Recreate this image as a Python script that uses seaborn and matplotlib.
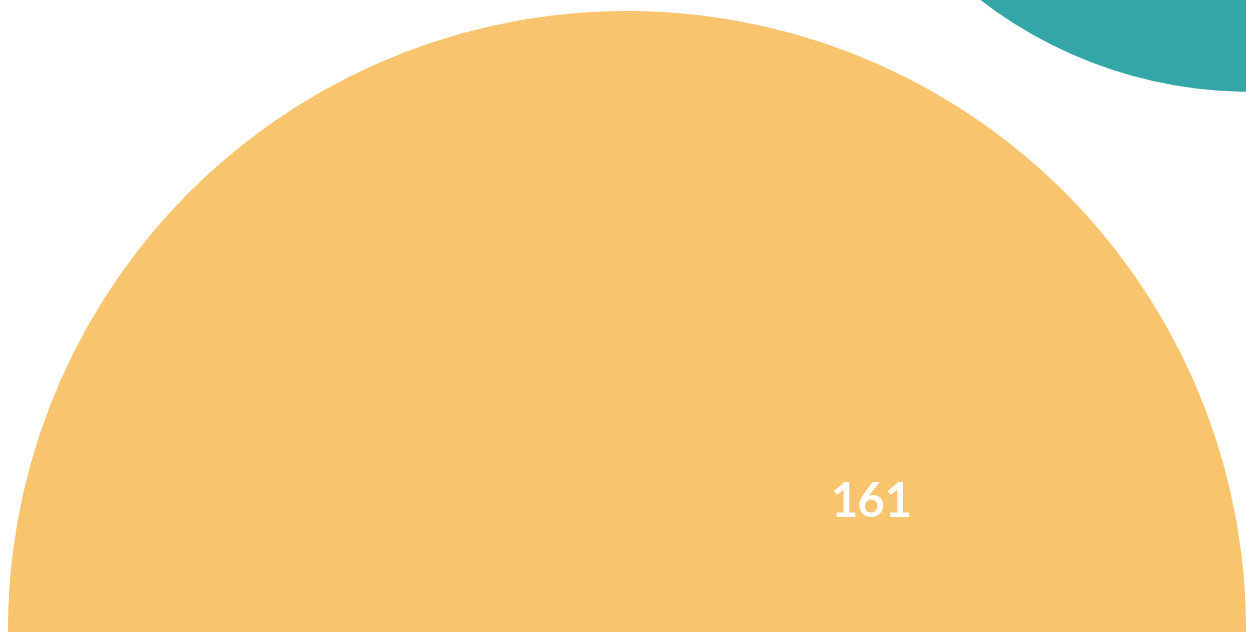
import matplotlib
matplotlib.use("Agg")
import matplotlib.pyplot as plt
import seaborn as sns
import numpy as np
import pandas as pd

# data
categories = ["A", "B"]
values = [161, 82]
colors = ["#F8C46D", "#35A6A8"]
label_text = ["161", ""]

sns.set_theme(style="white")
plt.rcParams["font.family"] = ["Lato", "DejaVu Sans"]

W, H, DPI = 1246, 632, 100
fig = plt.figure(figsize=(W / DPI, H / DPI), dpi=DPI)
ax = fig.add_axes([0, 0, 1, 1])

# layout: bubble centres in pixel space
cx = [627, 1250]
cy = [630, -350]
scale = 619 / np.sqrt(values[0])
radii = [scale * np.sqrt(v) for v in values]
px_to_pt = 72 / DPI
sizes = [(2 * r * px_to_pt) ** 2 for r in radii]

df = pd.DataFrame({"cat": categories, "x": cx, "y": cy, "s": sizes})
sns.scatterplot(data=df, x="x", y="y", hue="cat", palette=colors, size="s",
                sizes=(min(sizes), max(sizes)), size_norm=(min(sizes), max(sizes)),
                linewidth=0, legend=False, ax=ax, alpha=1)
ax.set_xlim(0, W)
ax.set_ylim(H, 0)
ax.axis("off")

ax.text(872, 503, label_text[0], color="white", fontsize=34, fontweight="bold",
        ha="center", va="center")

fig.savefig("out.png", dpi=DPI)
